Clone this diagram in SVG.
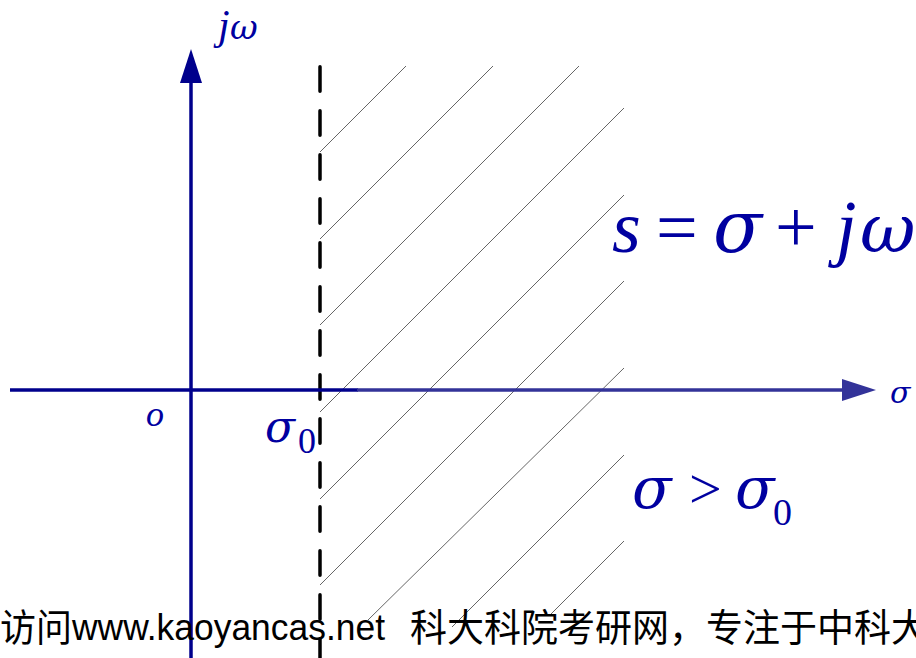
<svg xmlns="http://www.w3.org/2000/svg" width="916" height="658" viewBox="0 0 916 658">
<style>
.m{font-family:"Liberation Serif","Times New Roman",serif;fill:#0000A0}
.g{font-family:"DejaVu Serif",serif}
.i{font-style:italic}
.h{stroke:#666;stroke-width:1;fill:none}
.cjk{font-family:"Noto Sans CJK SC",sans-serif;fill:#000}
.lat{font-family:"Liberation Sans",Arial,sans-serif;fill:#000}
</style>
<rect width="916" height="658" fill="#fff"/>
<g id="hatch" class="h">
<line x1="320" y1="152" x2="406" y2="66"/>
<line x1="320" y1="239" x2="493" y2="66"/>
<line x1="320" y1="325" x2="579" y2="66"/>
<line x1="320" y1="412" x2="624" y2="108"/>
<line x1="320" y1="499" x2="624" y2="195"/>
<line x1="320" y1="585" x2="624" y2="281"/>
<line x1="368" y1="620" x2="624" y2="368"/>
<line x1="452" y1="627" x2="624" y2="455"/>
<line x1="550" y1="615" x2="624" y2="541"/>
</g>
<g id="boundary">
<line x1="320" y1="66.75" x2="320" y2="658" stroke="#000" stroke-width="3.5" stroke-linecap="round" stroke-dasharray="24.5 19.5"/>
</g>
<g id="axes">
<line x1="191" y1="658" x2="191" y2="80" stroke="#00008C" stroke-width="3.5"/>
<polygon points="191,49 202,83 180,83" fill="#00008C"/>
<line x1="10" y1="390" x2="358" y2="390" stroke="#00008C" stroke-width="3.5"/>
<line x1="357" y1="390" x2="845" y2="390" stroke="#333399" stroke-width="3.5"/>
<polygon points="876,390 842,379 842,401" fill="#333399"/>
</g>
<g id="labels">
<text class="m i" y="39" font-size="42"><tspan x="218">j</tspan><tspan class="g" x="230" font-size="34">ω</tspan></text>
<text class="m i" x="146" y="426" font-size="36">o</text>
<text class="m" y="442"><tspan class="i g" x="265" font-size="44">σ</tspan><tspan x="298" y="453" font-size="36">0</tspan></text>
<text class="m i g" x="890" y="403" font-size="30">σ</text>
<text class="m" y="252" font-size="74"><tspan class="i" x="612">s</tspan><tspan x="656">=</tspan><tspan class="i g" x="713" font-size="72">σ</tspan><tspan x="775">+</tspan><tspan class="i" x="836">j</tspan><tspan class="i g" x="860" font-size="68">ω</tspan></text>
<text class="m" y="508" font-size="58"><tspan class="i g" x="632" font-size="58">σ</tspan><tspan x="689">&gt;</tspan><tspan class="i g" x="735" font-size="58">σ</tspan><tspan x="773" y="525" font-size="38">0</tspan></text>
</g>
<g id="watermark">
<text class="cjk" x="0" y="641" font-size="38" textLength="72" lengthAdjust="spacingAndGlyphs">访问</text>
<text class="lat" x="72" y="640" font-size="36" textLength="313" lengthAdjust="spacingAndGlyphs">www.kaoyancas.net</text>
<text class="cjk" x="410" y="641" font-size="38" textLength="518" lengthAdjust="spacingAndGlyphs">科大科院考研网，专注于中科大</text>
</g>
</svg>
